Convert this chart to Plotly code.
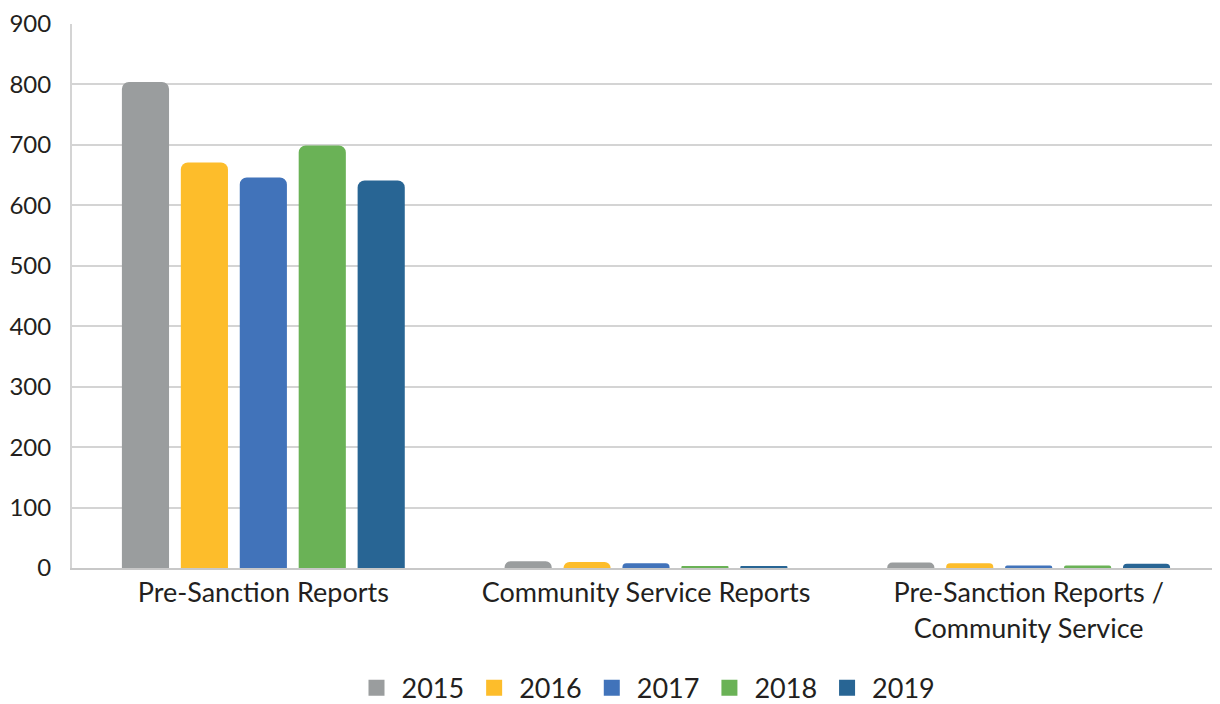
import plotly.graph_objects as go

categories = ["Pre-Sanction Reports", "Community Service Reports", "Pre-Sanction Reports /<br>Community Service"]
years = ["2015", "2016", "2017", "2018", "2019"]
values = {
    "2015": [804, 11, 9],
    "2016": [671, 10, 8],
    "2017": [646, 8, 4],
    "2018": [699, 2, 4],
    "2019": [641, 3, 7],
}
colors = {
    "2015": "#9a9d9e",
    "2016": "#fdbd2b",
    "2017": "#4173ba",
    "2018": "#6ab256",
    "2019": "#286594",
}

fig = go.Figure()
for yr in years:
    fig.add_trace(go.Bar(
        x=categories, y=values[yr], name=yr, showlegend=False,
        marker=dict(color=colors[yr], line=dict(width=0), cornerradius=7),
    ))
# legend entries with bigger square swatches
for yr in years:
    fig.add_trace(go.Scatter(
        x=[None], y=[None], mode="markers", name=yr,
        marker=dict(symbol="square", size=22, color=colors[yr]),
    ))

fig.update_layout(
    width=1220, height=704,
    barmode="group", bargap=0.23, bargroupgap=0.2,
    plot_bgcolor="white", paper_bgcolor="white",
    font=dict(family="Lato", size=25, color="#231f20"),
    margin=dict(l=64, r=8, t=16, b=144, autoexpand=False),
    showlegend=True,
    legend=dict(orientation="h", x=0.5, xanchor="center", y=-0.221, yanchor="middle",
                font=dict(size=27), itemwidth=40, traceorder="normal"),
    xaxis=dict(showgrid=False, showline=True, linecolor="#c8c8c8", linewidth=2,
               ticks="", tickfont=dict(size=27), automargin=False),
    yaxis=dict(range=[0, 900], dtick=100, showgrid=True, gridcolor="#d4d4d4", gridwidth=2,
               showline=True, linecolor="#d4d4d4", linewidth=2, zeroline=False,
               ticks="", ticklabelstandoff=14, automargin=False,
               tickfont=dict(size=24), ticklabeloverflow="allow"),
)

fig.write_html("out.html")
